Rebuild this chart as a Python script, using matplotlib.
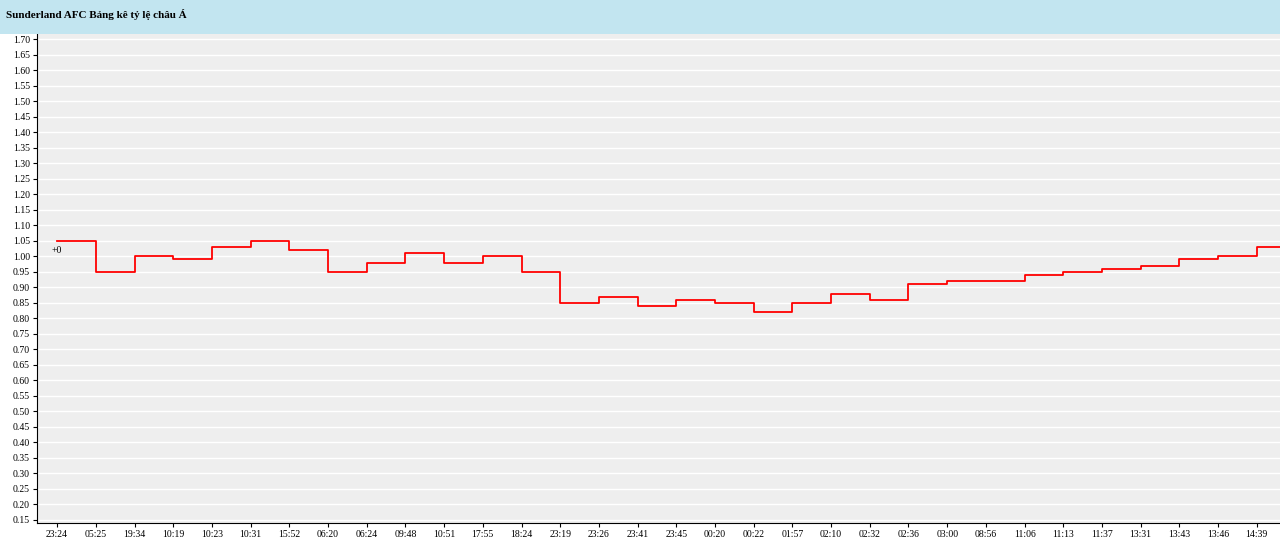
import matplotlib.pyplot as plt
import numpy as np

times = ["23:24", "05:25", "19:34", "10:19", "10:23", "10:31", "15:52", "06:20",
         "06:24", "09:48", "10:51", "17:55", "18:24", "23:19", "23:26", "23:41",
         "23:45", "00:20", "00:22", "01:57", "02:10", "02:32", "02:36", "03:00",
         "08:56", "11:06", "11:13", "11:37", "13:31", "13:43", "13:46", "14:39"]
odds = [1.05, 0.95, 1.00, 0.99, 1.03, 1.05, 1.02, 0.95, 0.98, 1.01, 0.98, 1.00,
        0.95, 0.85, 0.87, 0.84, 0.86, 0.85, 0.82, 0.85, 0.88, 0.86, 0.91, 0.92,
        0.92, 0.94, 0.95, 0.96, 0.97, 0.99, 1.00, 1.03]

fig = plt.figure(figsize=(12.8, 5.47), dpi=100)
fig.patch.set_facecolor("white")
# title band
fig.patches.append(plt.Rectangle((0, 1 - 34/547), 1, 34/547, transform=fig.transFigure,
                                 facecolor="#c2e5f0", edgecolor="none"))
fig.text(6/1280, 1 - 15/547, "Sunderland AFC Bảng kê tỷ lệ châu Á", fontsize=8,
         fontweight="bold", family="Liberation Serif", va="center")

ax = fig.add_axes([37/1280, 24/547, 1243/1280, 489/547])
ax.set_facecolor("#eeeeee")
x = np.arange(len(times))
xs = np.append(x, x[-1] + 1)
ys = odds + [odds[-1]]
ax.step(xs, ys, where="post", color="red", lw=1.3)
ax.text(-0.15, odds[0] - 0.03, "+0", fontsize=7, va="center", ha="left", family="Liberation Serif")

ax.set_xlim(-0.52, 31.6)
ax.set_ylim(0.14, 1.717)
yt = np.arange(0.15, 1.7001, 0.05)
ax.set_yticks(yt)
ax.set_yticklabels([f"{v:.2f}" for v in yt], fontsize=7, family="Liberation Serif")
ax.set_xticks(x)
ax.set_xticklabels(times, fontsize=7, family="Liberation Serif")
ax.grid(axis="y", color="white", lw=1)
ax.set_axisbelow(True)
for s in ["top", "right"]:
    ax.spines[s].set_visible(False)
ax.spines["left"].set_color("black")
ax.spines["bottom"].set_color("black")
ax.tick_params(length=3, width=0.8, pad=2)

fig.savefig("out.png", dpi=100)
